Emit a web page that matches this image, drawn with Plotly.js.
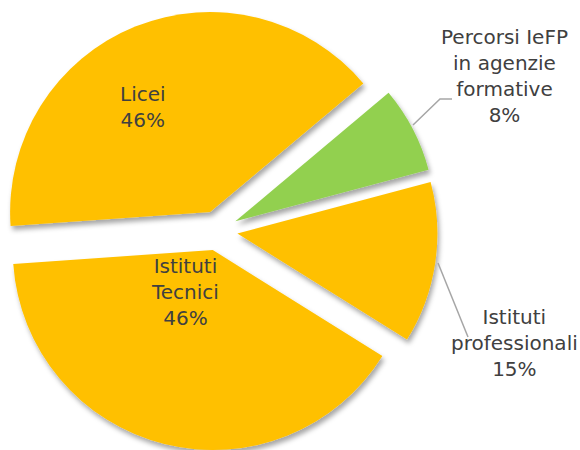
<!DOCTYPE html>
<html><head><meta charset="utf-8">
<script src="https://cdn.plot.ly/plotly-3.0.1.min.js"></script>
<style>
html,body{margin:0;padding:0;overflow:hidden;width:580px;height:450px;background:#fff}
#chart{position:absolute;left:-10px;top:0;width:600px;height:460px}
</style></head><body><div id="chart"></div>
<script>
const categories = ['Licei', 'Percorsi IeFP<br>in agenzie<br>formative', 'Istituti<br>professionali', 'Istituti<br>Tecnici'];
const shares = [46, 8, 15, 46];
const sliceColors = ['#FFC000', '#92D050', '#FFC000', '#FFC000'];

// page-pixel helpers (div is offset 10px left, 600x460)
const W = 600, H = 460, OFFX = 10;
const px = x => (x + OFFX) / W;
const py = y => 1 - y / H;

const labelPos = [[143, 107], [504, 76], [514, 343], [185, 292]];

const annotations = categories.map((c, i) => ({
  text: c + '<br>' + shares[i] + '%',
  x: px(labelPos[i][0]), y: py(labelPos[i][1]), xref: 'paper', yref: 'paper',
  xanchor: 'center', yanchor: 'middle', align: 'center', showarrow: false,
  font: {family: '"DejaVu Sans", sans-serif', size: 20, color: '#404040'}
}));

const shapes = [
  {type: 'path', xref: 'paper', yref: 'paper',
   path: `M ${px(413)} ${py(125)} L ${px(440)} ${py(99)} L ${px(452)} ${py(99)}`,
   line: {color: '#A6A6A6', width: 1.5}},
  {type: 'path', xref: 'paper', yref: 'paper',
   path: `M ${px(438)} ${py(263)} L ${px(468)} ${py(337)}`,
   line: {color: '#A6A6A6', width: 1.5}}
];

const trace = {
  type: 'pie',
  labels: categories,
  values: shares,
  sort: false,
  direction: 'clockwise',
  rotation: -94,
  pull: [0.1, 0.1, 0.1, 0.1],
  marker: {colors: sliceColors, line: {width: 0}},
  textinfo: 'none',
  hoverinfo: 'skip',
  showlegend: false,
  domain: {x: [7.6 / W, 447.6 / W], y: [1 - 450.6 / H, 1 - 10.6 / H]}
};

Plotly.newPlot('chart', [trace], {
  width: W, height: H,
  margin: {l: 0, r: 0, t: 0, b: 0},
  paper_bgcolor: '#fff',
  showlegend: false,
  annotations: annotations,
  shapes: shapes
}, {staticPlot: true}).then(gd => {
  const NS = 'http://www.w3.org/2000/svg';
  const svg = gd.querySelector('svg.main-svg');
  let defs = svg.querySelector('defs');
  if (!defs) { defs = document.createElementNS(NS, 'defs'); svg.insertBefore(defs, svg.firstChild); }
  const f = document.createElementNS(NS, 'filter');
  f.setAttribute('id', 'sliceShadow');
  f.setAttribute('x', '-20%'); f.setAttribute('y', '-20%');
  f.setAttribute('width', '140%'); f.setAttribute('height', '140%');
  const ds = document.createElementNS(NS, 'feDropShadow');
  ds.setAttribute('dx', '2'); ds.setAttribute('dy', '4');
  ds.setAttribute('stdDeviation', '2.5');
  ds.setAttribute('flood-color', '#000'); ds.setAttribute('flood-opacity', '0.35');
  f.appendChild(ds); defs.appendChild(f);
  gd.querySelectorAll('.pielayer path.surface').forEach(p => p.setAttribute('filter', 'url(#sliceShadow)'));
});
</script></body></html>
